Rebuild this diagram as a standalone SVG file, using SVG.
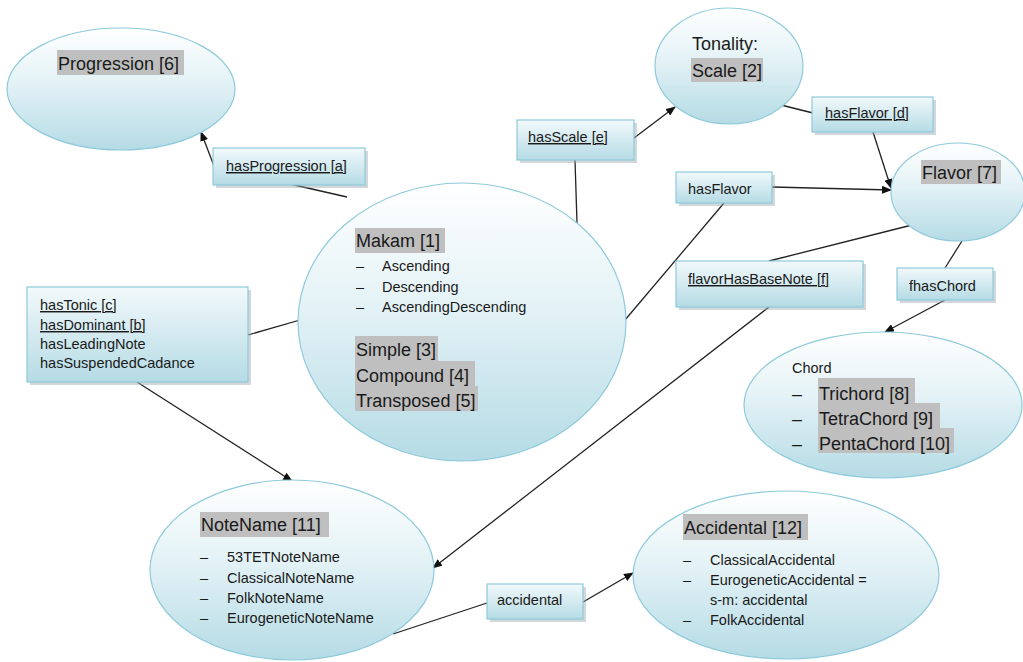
<svg xmlns="http://www.w3.org/2000/svg" width="1023" height="662" viewBox="0 0 1023 662">
<style>
.s{font-family:"Liberation Sans",Arial,sans-serif;font-size:14.5px;fill:#1a1a1a}
.b{font-family:"Liberation Sans",Arial,sans-serif;font-size:18px;fill:#1a1a1a}
.u{text-decoration:underline}
.hl{fill:#bfbfbf}
.ell{fill:url(#eg);stroke:#8ecadb;stroke-width:1.2}
.box{fill:url(#bg);stroke:#8ecadb;stroke-width:1.2}
.sh{fill:#9aa7ad;opacity:0.45}
.c{stroke:#222;stroke-width:1.3;fill:none}
.a{marker-end:url(#ah)}
</style>
<defs>
<linearGradient id="eg" x1="0" y1="0" x2="0" y2="1">
<stop offset="0" stop-color="#ffffff"/>
<stop offset="0.45" stop-color="#e3f2f6"/>
<stop offset="1" stop-color="#b5dbe5"/>
</linearGradient>
<linearGradient id="bg" x1="0" y1="0" x2="0" y2="1">
<stop offset="0" stop-color="#f2f9fb"/>
<stop offset="1" stop-color="#b5dbe5"/>
</linearGradient>
<marker id="ah" markerWidth="10" markerHeight="8" refX="9" refY="4" orient="auto" markerUnits="userSpaceOnUse">
<path d="M0,0 L10,4 L0,8 Z" fill="#111"/>
</marker>
</defs>
<rect width="1023" height="662" fill="#ffffff"/>

<g id="connectors">
<line class="c a" x1="214" y1="166" x2="201" y2="132"/>
<line class="c" x1="290" y1="184" x2="347" y2="197"/>
<line class="c" x1="575" y1="160" x2="577" y2="223"/>
<line class="c a" x1="634" y1="138" x2="675" y2="107"/>
<line class="c" x1="781" y1="105" x2="813" y2="113"/>
<line class="c a" x1="873" y1="132" x2="891" y2="188"/>
<line class="c a" x1="772" y1="187" x2="891" y2="190"/>
<line class="c" x1="724" y1="203" x2="625" y2="320"/>
<line class="c" x1="912" y1="225" x2="769" y2="261"/>
<line class="c a" x1="769" y1="307" x2="433" y2="568"/>
<line class="c" x1="962" y1="241" x2="945" y2="268"/>
<line class="c a" x1="945" y1="300" x2="885" y2="332"/>
<line class="c" x1="248" y1="335" x2="300" y2="320"/>
<line class="c a" x1="137" y1="382" x2="292" y2="481"/>
<line class="c" x1="393" y1="634" x2="487" y2="603"/>
<line class="c a" x1="583" y1="602" x2="633" y2="573"/>
</g>

<g id="progression">
<ellipse class="ell" cx="121" cy="89" rx="114" ry="61"/>
<rect class="hl" x="57" y="50" width="127" height="25"/>
<text class="b" x="58" y="70">Progression [6]</text>
</g>

<g id="hasProgression">
<rect class="sh" x="216" y="151" width="152" height="37"/>
<rect class="box" x="213" y="148" width="152" height="37"/>
<text class="s u" x="226" y="171">hasProgression [a]</text>
</g>

<g id="makam">
<ellipse class="ell" cx="462" cy="322" rx="164" ry="139"/>
<rect class="hl" x="355" y="228" width="90" height="25"/>
<text class="b" x="356" y="247">Makam [1]</text>
<text class="s" x="356" y="271">–</text><text class="s" x="382" y="271">Ascending</text>
<text class="s" x="356" y="292">–</text><text class="s" x="382" y="292">Descending</text>
<text class="s" x="356" y="312">–</text><text class="s" x="382" y="312">AscendingDescending</text>
<rect class="hl" x="355" y="336" width="83" height="25"/>
<rect class="hl" x="355" y="361" width="120" height="25"/>
<rect class="hl" x="355" y="386" width="123" height="25"/>
<text class="b" x="356" y="356">Simple [3]</text>
<text class="b" x="356" y="382">Compound [4]</text>
<text class="b" x="356" y="407">Transposed [5]</text>
</g>

<g id="hasTonic">
<rect class="sh" x="30" y="290" width="221" height="95"/>
<rect class="box" x="27" y="287" width="221" height="95"/>
<text class="s u" x="40" y="310">hasTonic [c]</text>
<text class="s u" x="40" y="330">hasDominant [b]</text>
<text class="s" x="40" y="349">hasLeadingNote</text>
<text class="s" x="40" y="368">hasSuspendedCadance</text>
</g>

<g id="tonality">
<ellipse class="ell" cx="729" cy="66" rx="74" ry="58"/>
<text class="b" x="692" y="50">Tonality:</text>
<rect class="hl" x="691" y="58" width="72" height="24"/>
<text class="b" x="692" y="77">Scale [2]</text>
</g>

<g id="hasScale">
<rect class="sh" x="520" y="123" width="117" height="40"/>
<rect class="box" x="517" y="120" width="117" height="40"/>
<text class="s u" x="528" y="142">hasScale [e]</text>
</g>

<g id="hasFlavorD">
<rect class="sh" x="815" y="100" width="121" height="35"/>
<rect class="box" x="812" y="97" width="121" height="35"/>
<text class="s u" x="825" y="118">hasFlavor [d]</text>
</g>

<g id="flavor">
<ellipse class="ell" cx="958" cy="192" rx="67" ry="49"/>
<rect class="hl" x="921" y="160" width="80" height="24"/>
<text class="b" x="922" y="179">Flavor [7]</text>
</g>

<g id="hasFlavor">
<rect class="sh" x="679" y="175" width="96" height="31"/>
<rect class="box" x="676" y="172" width="96" height="31"/>
<text class="s" x="688" y="194">hasFlavor</text>
</g>

<g id="flavorHasBaseNote">
<rect class="sh" x="679" y="264" width="187" height="46"/>
<rect class="box" x="676" y="261" width="187" height="46"/>
<text class="s u" x="688" y="284">flavorHasBaseNote [f]</text>
</g>

<g id="fhasChord">
<rect class="sh" x="900" y="271" width="96" height="32"/>
<rect class="box" x="897" y="268" width="96" height="32"/>
<text class="s" x="909" y="291">fhasChord</text>
</g>

<g id="chord">
<ellipse class="ell" cx="883" cy="405" rx="139" ry="73"/>
<text class="s" x="792" y="373">Chord</text>
<rect class="hl" x="818" y="378" width="97" height="25"/>
<rect class="hl" x="818" y="403" width="122" height="25"/>
<rect class="hl" x="818" y="428" width="136" height="25"/>
<text class="b" x="792" y="400">–</text><text class="b" x="819" y="400">Trichord [8]</text>
<text class="b" x="792" y="425">–</text><text class="b" x="819" y="425">TetraChord [9]</text>
<text class="b" x="792" y="450">–</text><text class="b" x="819" y="450">PentaChord [10]</text>
</g>

<g id="noteName">
<ellipse class="ell" cx="292" cy="570" rx="142" ry="90"/>
<rect class="hl" x="200" y="512" width="129" height="25"/>
<text class="b" x="201" y="531">NoteName [11]</text>
<text class="s" x="200" y="562">–</text><text class="s" x="227" y="562">53TETNoteName</text>
<text class="s" x="200" y="583">–</text><text class="s" x="227" y="583">ClassicalNoteName</text>
<text class="s" x="200" y="603">–</text><text class="s" x="227" y="603">FolkNoteName</text>
<text class="s" x="200" y="623">–</text><text class="s" x="227" y="623">EurogeneticNoteName</text>
</g>

<g id="accidentalLink">
<rect class="sh" x="490" y="587" width="96" height="35"/>
<rect class="box" x="487" y="584" width="96" height="35"/>
<text class="s" x="497" y="605">accidental</text>
</g>

<g id="accidental">
<ellipse class="ell" cx="786" cy="575" rx="153" ry="84"/>
<rect class="hl" x="683" y="514" width="125" height="26"/>
<text class="b" x="684" y="534">Accidental [12]</text>
<text class="s" x="683" y="565">–</text><text class="s" x="710" y="565">ClassicalAccidental</text>
<text class="s" x="683" y="585">–</text><text class="s" x="710" y="585">EurogeneticAccidental =</text>
<text class="s" x="710" y="605">s-m: accidental</text>
<text class="s" x="683" y="625">–</text><text class="s" x="710" y="625">FolkAccidental</text>
</g>
</svg>
